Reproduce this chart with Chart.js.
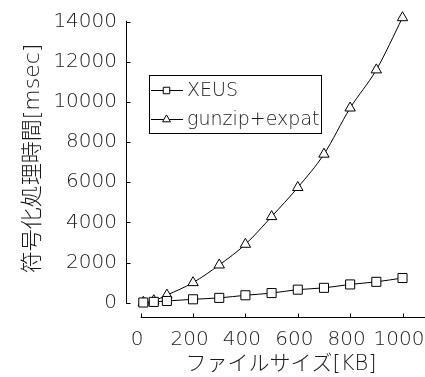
<!DOCTYPE html>
<html><head><meta charset="utf-8">
<script src="https://cdn.jsdelivr.net/npm/chart.js@4"></script>
<style>html,body{margin:0;padding:0;background:#fff}#wrap{width:425px;height:377px;position:relative}</style>
</head><body><div id="wrap"><canvas id="c" width="425" height="377"></canvas></div>
<script>
const fileSizes = [10, 50, 100, 200, 300, 400, 500, 600, 700, 800, 900, 1000];
const xeusTimes = [10, 40, 85, 170, 240, 370, 480, 650, 740, 910, 1040, 1230];
const gunzipTimes = [20, 100, 380, 1000, 1880, 2910, 4290, 5740, 7400, 9700, 11600, 14200];
const seriesLabels = ['XEUS', 'gunzip+expat'];
const xTicks = [0, 200, 400, 600, 800, 1000];
const yTicks = [0, 2000, 4000, 6000, 8000, 10000, 12000, 14000];
const xTitle = 'ファイルサイズ[KB]';
const yTitle = '符号化処理時間[msec]';

const FONT = "'DejaVu Sans', 'Noto Sans CJK JP', sans-serif";
const WEIGHT = 200;
const TXT = '#1a1a1a';
const AREA = { left: 126, top: 22, right: 425, bottom: 318 };
// pixel placement of the value axes (layout, not data)
const X0PX = 140.7, XPX_PER_UNIT = 0.2618, Y0PX = 302.7, YPX_PER_UNIT = 0.020071;

const axesPlugin = {
  id: 'axesPlugin',
  afterDraw(chart) {
    const ctx = chart.ctx, xs = chart.scales.x, ys = chart.scales.y, a = chart.chartArea;
    ctx.save();
    ctx.strokeStyle = '#000'; ctx.lineWidth = 1;
    const yx = Math.round(a.left) + 0.5;
    const yTop = ys.getPixelForValue(yTicks[yTicks.length - 1]);
    const yBot = ys.getPixelForValue(0);
    ctx.beginPath(); ctx.moveTo(yx, yTop - 1); ctx.lineTo(yx, yBot + 1); ctx.stroke();
    yTicks.forEach(v => { const p = Math.round(ys.getPixelForValue(v)) + 0.5;
      ctx.beginPath(); ctx.moveTo(yx, p); ctx.lineTo(yx + 4, p); ctx.stroke(); });
    const xy = Math.round(a.bottom) - 0.5;
    const xL = xs.getPixelForValue(0);
    ctx.beginPath(); ctx.moveTo(xL, xy); ctx.lineTo(425, xy); ctx.stroke();
    xTicks.forEach(v => { const p = Math.round(xs.getPixelForValue(v)) + 0.5;
      ctx.beginPath(); ctx.moveTo(p, xy); ctx.lineTo(p, xy - 4); ctx.stroke(); });
    ctx.fillStyle = TXT;
    ctx.textAlign = 'center'; ctx.textBaseline = 'middle';
    ctx.font = WEIGHT + ' 21px ' + FONT;
    ctx.fillText(xTitle, 281, 365);
    ctx.save();
    ctx.translate(33, 158.5); ctx.rotate(-Math.PI / 2);
    ctx.font = WEIGHT + ' 22px ' + FONT;
    ctx.fillText(yTitle, 0, 0);
    ctx.restore();
    const bx = 149.5, by = 75.5, bw = 172, bh = 58;
    ctx.fillStyle = '#fff'; ctx.fillRect(bx, by, bw, bh);
    ctx.strokeRect(bx, by, bw, bh);
    const rows = [90, 119];
    chart.data.datasets.forEach((ds, i) => {
      const y = rows[i] + 0.5;
      ctx.strokeStyle = '#000'; ctx.lineWidth = 1;
      ctx.beginPath(); ctx.moveTo(151, y); ctx.lineTo(183, y); ctx.stroke();
      ctx.fillStyle = '#fff';
      Chart.helpers.drawPoint(ctx, { pointStyle: ds.pointStyle, radius: 4.6, rotation: 0, borderWidth: 1 }, 166.5, y);
      ctx.fillStyle = TXT; ctx.textAlign = 'left'; ctx.textBaseline = 'middle';
      ctx.font = WEIGHT + ' 19px ' + FONT;
      ctx.fillText(ds.label, 187, rows[i] + 1);
    });
    ctx.restore();
  }
};

const plain = v => String(v);

const chart = new Chart(document.getElementById('c'), {
  type: 'line',
  data: {
    datasets: [
      { label: seriesLabels[0], data: fileSizes.map((x, i) => ({ x, y: xeusTimes[i] })),
        pointStyle: 'rect', pointRadius: 6.4, borderColor: '#000', borderWidth: 1,
        pointBackgroundColor: '#fff', pointBorderColor: '#000', pointBorderWidth: 1,
        cubicInterpolationMode: 'monotone', clip: false },
      { label: seriesLabels[1], data: fileSizes.map((x, i) => ({ x, y: gunzipTimes[i] })),
        pointStyle: 'triangle', pointRadius: 6, borderColor: '#000', borderWidth: 1,
        pointBackgroundColor: '#fff', pointBorderColor: '#000', pointBorderWidth: 1,
        cubicInterpolationMode: 'monotone', clip: false }
    ]
  },
  options: {
    responsive: false, animation: false, devicePixelRatio: 1,
    layout: { padding: { top: AREA.top, left: 0, right: 0, bottom: 0 } },
    plugins: { legend: { display: false }, tooltip: { enabled: false } },
    scales: {
      x: {
        type: 'linear', min: -56, max: 1086,
        afterBuildTicks: s => { s.ticks = xTicks.map(v => ({ value: v })); },
        afterFit: s => { s.height = 377 - AREA.bottom; s.paddingLeft = 0; s.paddingRight = 0; },
        grid: { display: false, drawTicks: false }, border: { display: false },
        ticks: { font: { size: 20, family: FONT, weight: WEIGHT }, color: TXT, padding: 10, labelOffset: -3.5,
                 maxRotation: 0, autoSkip: false, callback: plain }
      },
      y: {
        type: 'linear', min: -762, max: 14000,
        afterBuildTicks: s => { s.ticks = yTicks.map(v => ({ value: v })); },
        afterFit: s => { s.width = AREA.left; s.paddingTop = 0; s.paddingBottom = 0; },
        grid: { display: false, drawTicks: false }, border: { display: false },
        ticks: { font: { size: 20, family: FONT, weight: WEIGHT }, color: TXT, padding: 9, autoSkip: false, callback: plain }
      }
    }
  },
  plugins: [axesPlugin]
});
// fit the value ranges to the laid-out plot area so the axes land where the reference has them
for (let k = 0; k < 3; k++) {
  const ca = chart.chartArea;
  chart.options.scales.x.min = (ca.left - X0PX) / XPX_PER_UNIT;
  chart.options.scales.x.max = (ca.right - X0PX) / XPX_PER_UNIT;
  chart.options.scales.y.max = (Y0PX - ca.top) / YPX_PER_UNIT;
  chart.options.scales.y.min = (Y0PX - ca.bottom) / YPX_PER_UNIT;
  chart.update();
}
</script></body></html>
